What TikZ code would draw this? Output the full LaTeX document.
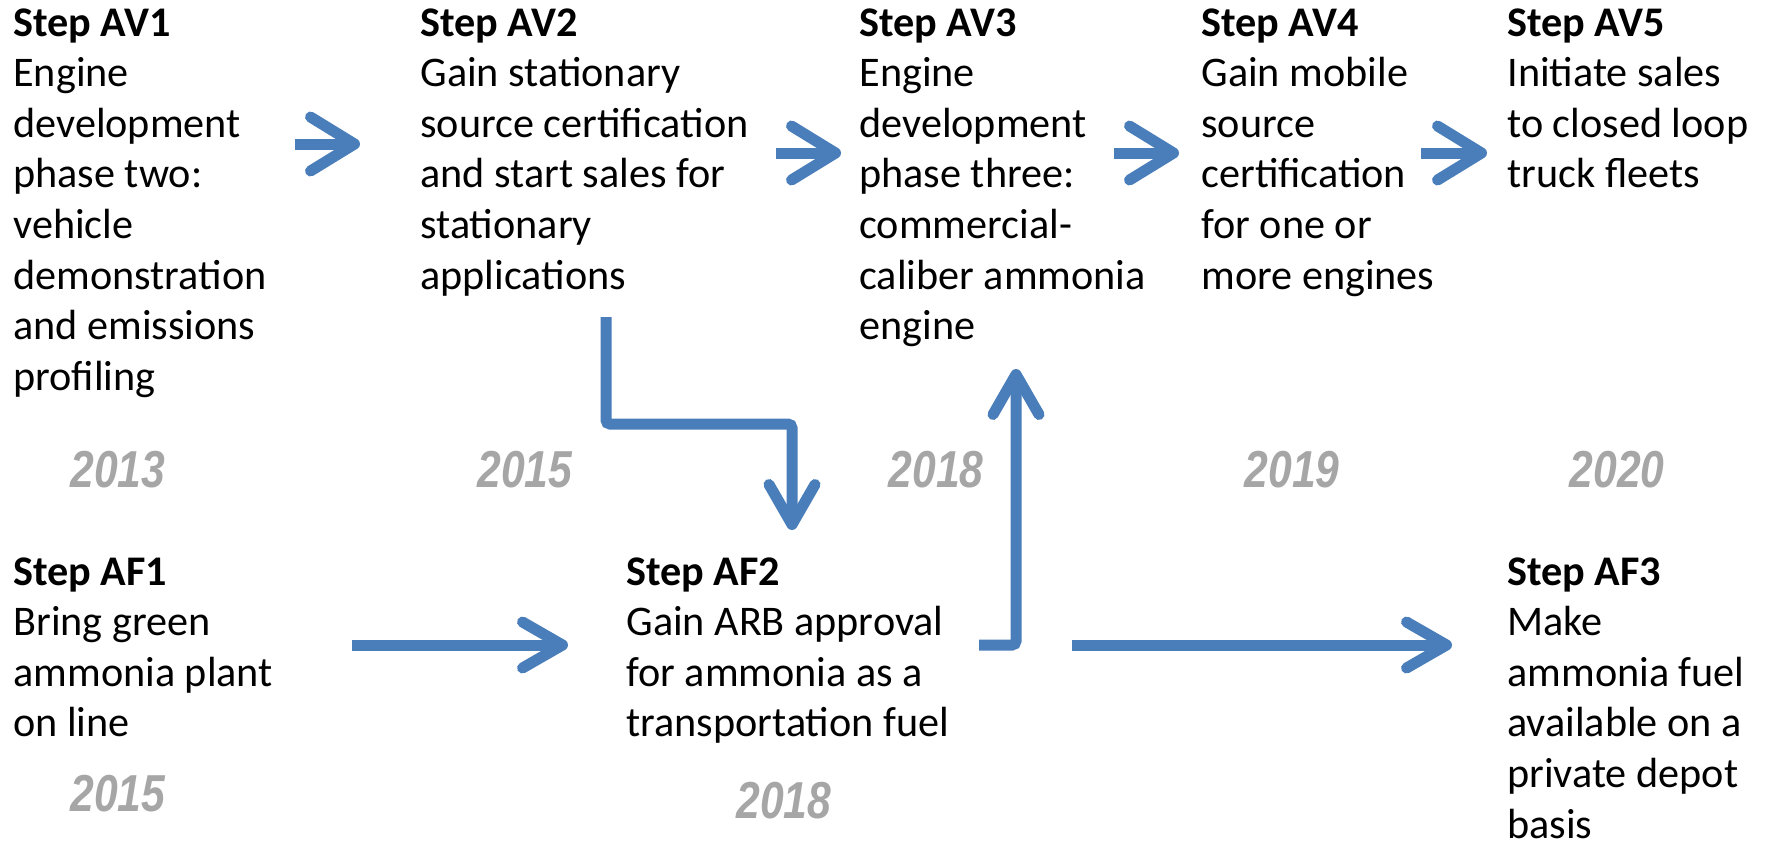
\documentclass[tikz,border=0pt]{standalone}
\usepackage{fontspec}
\setmainfont{Carlito}
\newfontfamily\yearfont{Liberation Sans}
\usepackage{graphicx}
\usetikzlibrary{arrows.meta}
\definecolor{arrblue}{HTML}{4A7EBB}
\definecolor{yeargray}{HTML}{A6A6A6}
\newcommand{\yeartext}[1]{\scalebox{0.82}[1]{#1}}
\tikzset{
  stepbox/.style={anchor=north west, align=left, inner sep=0pt,
                  font=\fontsize{21.1}{25.3}\selectfont},
  yearlbl/.style={text=yeargray, inner sep=0pt,
                  font=\yearfont\fontsize{26}{26}\selectfont\bfseries\itshape},
  flowarr/.style={draw=arrblue, line width=5.5pt,
                  -{Straight Barb[length=22pt,width=27pt,round]}},
  longarr/.style={flowarr, -{Straight Barb[length=20pt,width=23pt,round]}},
}

\begin{document}
\begin{tikzpicture}[x=0.5pt, y=-0.5pt]
    \useasboundingbox (0,0) rectangle (1770,842);
    % vehicle track
    \node[stepbox] (av1) at (13,8)   {\textbf{Step AV1}\\Engine\\development\\phase two:\\vehicle\\demonstration\\and emissions\\profiling};
    \node[stepbox] (av2) at (420,8)  {\textbf{Step AV2}\\Gain stationary\\source certification\\and start sales for\\stationary\\applications};
    \node[stepbox] (av3) at (859,8)  {\textbf{Step AV3}\\Engine\\development\\phase three:\\commercial-\\caliber ammonia\\engine};
    \node[stepbox] (av4) at (1201,8) {\textbf{Step AV4}\\Gain mobile\\source\\certification\\for one or\\more engines};
    \node[stepbox] (av5) at (1507,8) {\textbf{Step AV5}\\Initiate sales\\to closed loop\\truck fleets};
    % fuel track
    \node[stepbox] (af1) at (13,557)   {\textbf{Step AF1}\\Bring green\\ammonia plant\\on line};
    \node[stepbox] (af2) at (626,557)  {\textbf{Step AF2}\\Gain ARB approval\\for ammonia as a\\transportation fuel};
    \node[stepbox] (af3) at (1507,557) {\textbf{Step AF3}\\Make\\ammonia fuel\\available on a\\private depot\\basis};
    % years
    \node[yearlbl] (yav1) at (118,470)  {\yeartext{2013}};
    \node[yearlbl] (yav2) at (525,470)  {\yeartext{2015}};
    \node[yearlbl] (yav3) at (936,470)  {\yeartext{2018}};
    \node[yearlbl] (yav4) at (1292,470) {\yeartext{2019}};
    \node[yearlbl] (yav5) at (1617,470) {\yeartext{2020}};
    \node[yearlbl] (yaf1) at (118,794)  {\yeartext{2015}};
    \node[yearlbl] (yaf2) at (784,801)  {\yeartext{2018}};
    % arrow ends
    \coordinate (av1out) at (295,144);
    \coordinate (av2in)  at (360,144);
    \coordinate (av2out) at (776,153);
    \coordinate (av3in)  at (841,153);
    \coordinate (av3out) at (1114,153);
    \coordinate (av4in)  at (1179,153);
    \coordinate (av4out) at (1421,153);
    \coordinate (av5in)  at (1487,153);
    \coordinate (av2down) at (606,317);
    \coordinate (av2bend) at (606,424);
    \coordinate (af2top)  at (792,530);
    \coordinate (af2up)   at (979,645);
    \coordinate (av3bot)  at (1016,369);
    \coordinate (af1out) at (352,645);
    \coordinate (af2in)  at (568,645);
    \coordinate (af2out) at (1072,645);
    \coordinate (af3in)  at (1452,645);
    \draw[flowarr] (av1out)--(av2in);
    \draw[flowarr] (av2out)--(av3in);
    \draw[flowarr] (av3out)--(av4in);
    \draw[flowarr] (av4out)--(av5in);
    \draw[longarr, rounded corners=2pt] (av2down)--(av2bend)-|(af2top);
    \draw[longarr, rounded corners=2pt] (af2up)-|(av3bot);
    \draw[longarr] (af1out)--(af2in);
    \draw[longarr] (af2out)--(af3in);
  \end{tikzpicture}
\end{document}
